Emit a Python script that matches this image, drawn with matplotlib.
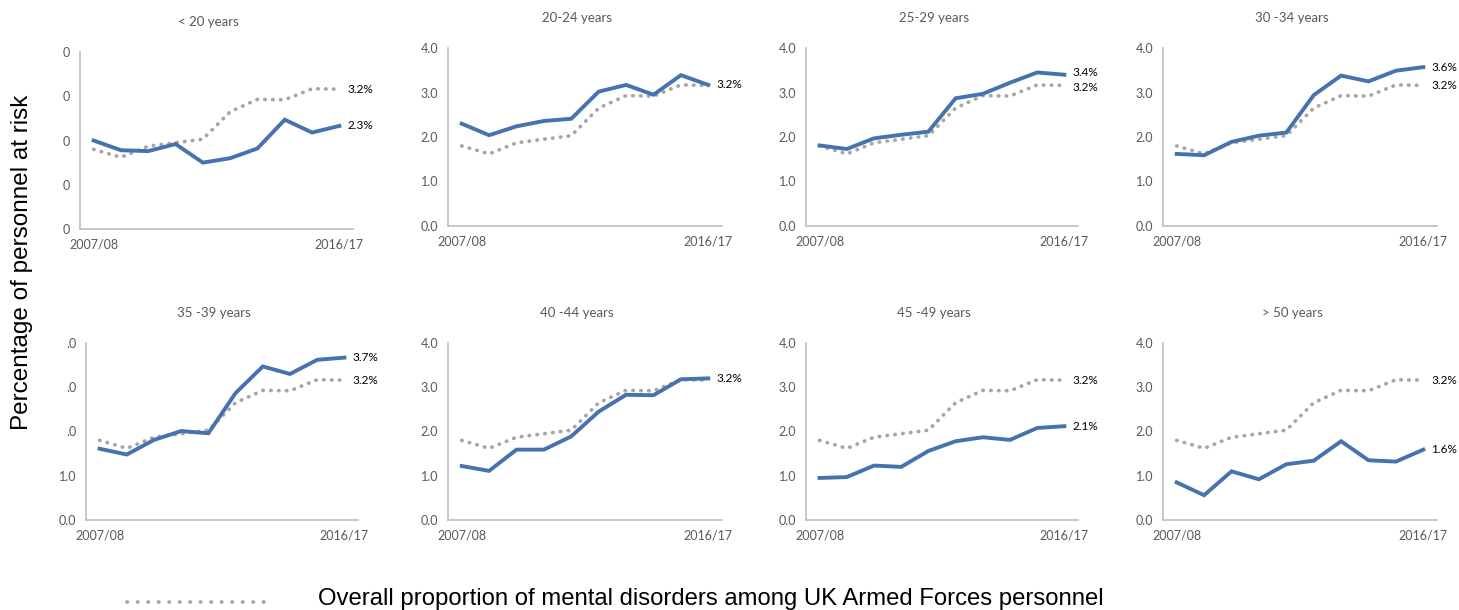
import matplotlib.pyplot as plt
import numpy as np

years = ['2007/08', '2008/09', '2009/10', '2010/11', '2011/12',
         '2012/13', '2013/14', '2014/15', '2015/16', '2016/17']

overall = [1.80, 1.62, 1.87, 1.95, 2.03, 2.65, 2.93, 2.92, 3.17, 3.16]

groups = ['< 20 years', '20-24 years', '25-29 years', '30 -34 years',
          '35 -39 years', '40 -44 years', '45 -49 years', '> 50 years']

under20 = [2.00, 1.78, 1.76, 1.92, 1.50, 1.60, 1.82, 2.47, 2.18, 2.33]
age20_24 = [2.30, 2.04, 2.24, 2.36, 2.41, 3.02, 3.17, 2.95, 3.39, 3.17]
age25_29 = [1.81, 1.73, 1.97, 2.05, 2.12, 2.87, 2.97, 3.22, 3.45, 3.40]
age30_34 = [1.62, 1.59, 1.89, 2.03, 2.10, 2.94, 3.38, 3.25, 3.49, 3.57]
age35_39 = [1.61, 1.48, 1.81, 2.01, 1.96, 2.87, 3.47, 3.30, 3.62, 3.67]
age40_44 = [1.22, 1.11, 1.59, 1.59, 1.89, 2.45, 2.83, 2.82, 3.18, 3.20]
age45_49 = [0.95, 0.97, 1.23, 1.20, 1.56, 1.78, 1.87, 1.81, 2.08, 2.12]
over50 = [0.85, 0.56, 1.10, 0.92, 1.26, 1.34, 1.78, 1.35, 1.32, 1.59]

series = [under20, age20_24, age25_29, age30_34, age35_39, age40_44, age45_49, over50]
end_labels = ['2.3%', '3.2%', '3.4%', '3.6%', '3.7%', '3.2%', '2.1%', '1.6%']
overall_label = '3.2%'

yticks = [0, 1, 2, 3, 4]
ytick_labels = ['0.0', '1.0', '2.0', '3.0', '4.0']
# as they appear in the source (cut-off labels)
ytick_overrides = {0: ['0', '0', '0', '0', '0'],
                   4: ['0.0', '1.0', '.0', '.0', '.0']}

W, H = 1459, 610
fig = plt.figure(figsize=(W / 100, H / 100), dpi=100)
plt.rcParams['font.family'] = ['Lato', 'DejaVu Sans']

blue = '#4672AD'
grey = '#A6A6A6'
tick_col = '#595959'

# axes boxes in pixels: left, top, right, bottom
boxes = [(80, 52, 353, 229), (448, 48, 722, 226), (806, 48, 1078, 226), (1163, 48, 1437, 226),
         (86, 343, 358, 520), (448, 343, 722, 520), (806, 343, 1078, 520), (1163, 343, 1437, 520)]
title_y = [22, 18, 18, 18, 313, 313, 313, 313]

x = np.arange(len(years))
for i, (l, t, r, b) in enumerate(boxes):
    ax = fig.add_axes([l / W, (H - b) / H, (r - l) / W, (b - t) / H])
    ax.plot(x, overall, color=grey, lw=2.7, ls=(0, (0.1, 2.0)), dash_capstyle='round')
    ax.plot(x, series[i], color=blue, lw=2.8, solid_joinstyle='miter')
    ax.set_xlim(-0.5, len(years) - 0.5)
    ax.set_ylim(0, 4)
    ax.set_yticks(yticks)
    ax.set_yticklabels(ytick_overrides.get(i, ytick_labels))
    ax.set_xticks([0, len(years) - 1])
    ax.set_xticklabels([years[0], years[-1]])
    ax.tick_params(length=0, labelsize=9, colors=tick_col, pad=7)
    for s in ['top', 'right']:
        ax.spines[s].set_visible(False)
    for s in ['left', 'bottom']:
        ax.spines[s].set_color('#BFBFBF')
        ax.spines[s].set_linewidth(1.2)

    vb = series[i][-1]
    vo = overall[-1]
    xl = len(years) - 1 + 0.3
    if end_labels[i] == overall_label:
        ax.text(xl, vb, end_labels[i], fontsize=8.5, va='center', ha='left', clip_on=False)
    else:
        if abs(vb - vo) < 0.3:
            mid = (vb + vo) / 2
            sgn = 1 if vb > vo else -1
            vb, vo = mid + sgn * 0.17, mid - sgn * 0.17
        ax.text(xl, vb, end_labels[i], fontsize=8.5, va='center', ha='left', clip_on=False)
        ax.text(xl, vo, overall_label, fontsize=8.5, va='center', ha='left', clip_on=False)

    fig.text(((l + r) / 2 - 8) / W, 1 - title_y[i] / H, groups[i], fontsize=9.5,
             color=tick_col, ha='center', va='center')

fig.text(22 / W, 1 - 262 / H, 'Percentage of personnel at risk', rotation=90,
         fontsize=17.5, family='Liberation Sans', ha='center', va='center')

# legend
fig.add_artist(plt.Line2D([127 / W, 272 / W], [1 - 602 / H] * 2, color=grey, lw=2.7,
                          ls=(0, (0.1, 2.7)), dash_capstyle='round'))
fig.text(318 / W, 1 - 599 / H, 'Overall proportion of mental disorders among UK Armed Forces personnel',
         fontsize=17.2, family='Liberation Sans', ha='left', va='center')

fig.savefig('out.png', dpi=100)
